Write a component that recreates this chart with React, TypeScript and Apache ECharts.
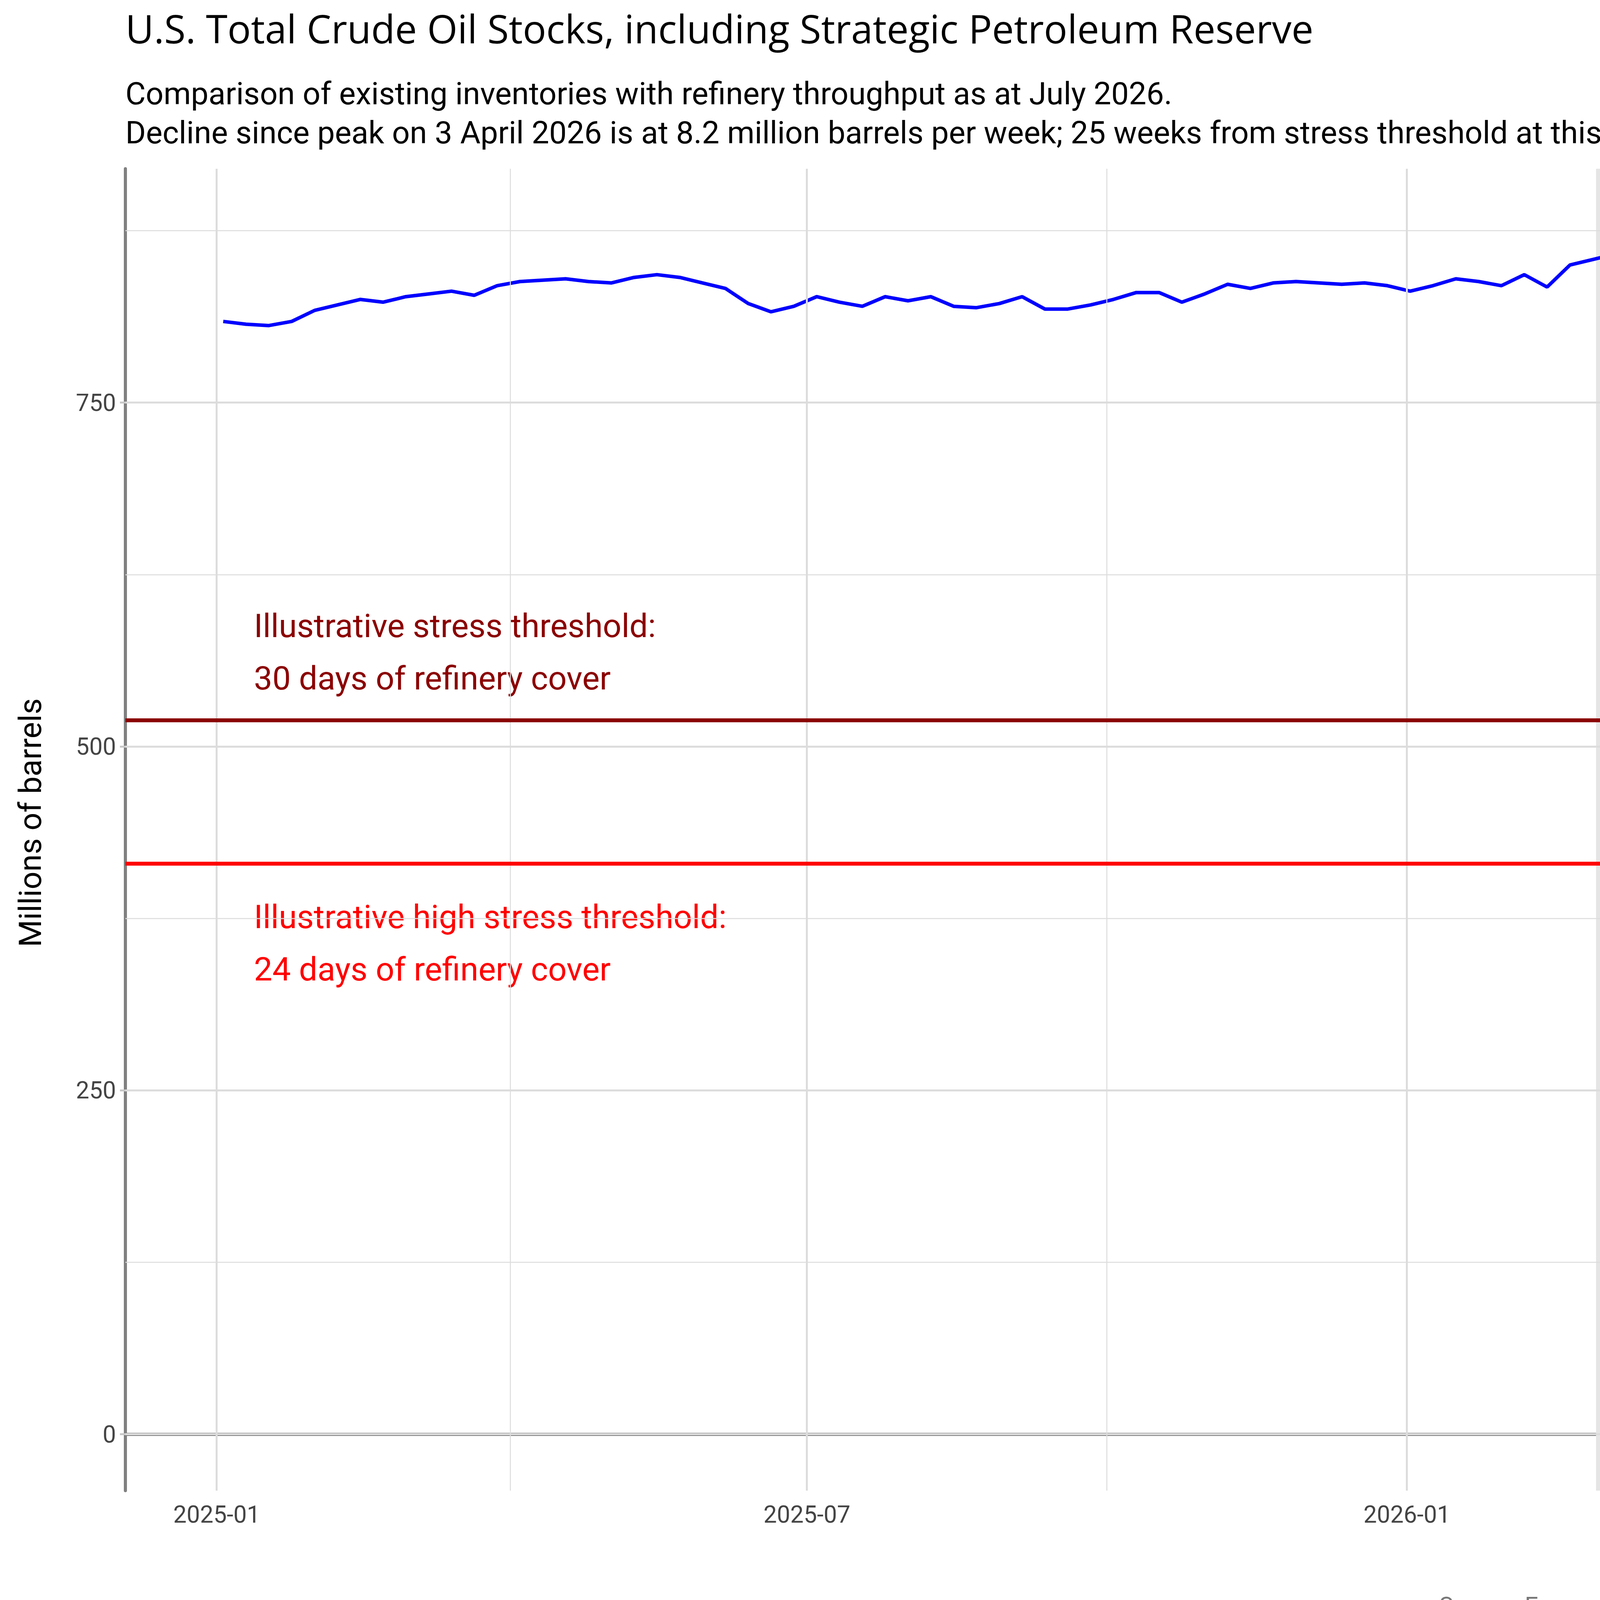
import React, { useEffect, useRef } from 'react'
import * as echarts from 'echarts'

// weekly stocks, million barrels, from 3 Jan 2025
const startWeek = Date.UTC(2025, 0, 3)
const stocks = [
  809, 807, 806, 809, 817, 821, 825, 823, 827, 829, 831, 828,
  835, 838, 839, 840, 838, 837, 841, 843, 841, 837, 833,
  822, 816, 820, 827, 823, 820, 827, 824, 827, 820, 819, 822, 827, 818, 818, 821, 825,
  830, 830, 823, 829, 836, 833, 837, 838, 837, 836, 837, 835, 831,
  835, 840, 838, 835, 843, 834, 850, 854, 858, 864, 871, 877, 879,
  873, 870, 858, 850, 838, 820, 806, 791, 776, 758, 742, 732, 729, 725, 722, 711, 711, 723, 722,
]
const barrelsPerDay = 17.3
const stressLevel = 519
const highStressLevel = 415
const leftTicks = [0, 250, 500, 750]
const leftMinor = [125, 375, 625, 875]
const rightTicks = [0, 10, 20, 30, 40, 50]
const xMajor = ['2025-01-01', '2025-07-01', '2026-01-01', '2026-07-01']
const xMinor = ['2025-04-01', '2025-10-01', '2026-04-01']
const shadeStart = '2026-02-28'
const xMin = '2024-12-04'
const xMax = '2026-09-12'
const yMin = -41
const yMax = 920

const ts = (s: string) => Date.parse(s + 'T00:00:00Z')
const fmt = (v: number) => {
  const d = new Date(v)
  return d.getUTCFullYear() + '-' + String(d.getUTCMonth() + 1).padStart(2, '0')
}

export default function App() {
  const ref = useRef<HTMLDivElement | null>(null)

  useEffect(() => {
    document.body.style.margin = '0'
    if (!ref.current) return
    const chart = echarts.init(ref.current, null, { renderer: 'svg' })
    const data = stocks.map((v, i) => [startWeek + i * 7 * 86400000, v])
    const grey = '#dcdcdc'
    const font = 'Roboto'

    chart.setOption({
      animation: false,
      backgroundColor: '#fff',
      textStyle: { fontFamily: font },
      grid: { left: 321, right: 278, top: 432, bottom: 384 },
      xAxis: {
        type: 'value', min: ts(xMin), max: ts(xMax), scale: true,
        axisLine: { lineStyle: { color: '#808080', width: 8 } },
        axisTick: { show: true, customValues: xMajor.map(ts), length: 14, lineStyle: { color: '#c8c8c8', width: 5 } },
        axisLabel: { customValues: xMajor.map(ts), formatter: (v: number) => fmt(v), fontSize: 61, color: '#444', margin: 30 },
        splitLine: { show: false },
      },
      yAxis: [
        {
          type: 'value', min: yMin, max: yMax,
          axisLine: { show: true, lineStyle: { color: '#808080', width: 8 } },
          axisTick: { show: true, customValues: leftTicks, length: 14, lineStyle: { color: '#c8c8c8', width: 5 } },
          axisLabel: { customValues: leftTicks, fontSize: 61, color: '#444', margin: 24 },
          splitLine: { show: false },
        },
        {
          type: 'value', min: yMin / barrelsPerDay, max: yMax / barrelsPerDay,
          axisLine: { show: true, lineStyle: { color: '#808080', width: 8 } },
          axisTick: { show: true, customValues: rightTicks, length: 14, lineStyle: { color: '#c8c8c8', width: 5 } },
          axisLabel: { customValues: rightTicks, fontSize: 61, color: '#444', margin: 24 },
          splitLine: { show: false },
        },
      ],
      series: [
        {
          type: 'line', data: [], z: 1,
          markArea: {
            silent: true,
            itemStyle: { color: '#e5e5e5' },
            data: [[{ xAxis: ts(shadeStart) }, { xAxis: ts(xMax) }]],
          },
          markLine: {
            silent: true, symbol: 'none', label: { show: false },
            data: [
              ...leftTicks.map(v => ({ yAxis: v, lineStyle: { color: grey, width: 5, type: 'solid' } })),
              ...leftMinor.map(v => ({ yAxis: v, lineStyle: { color: grey, width: 2.5, type: 'solid' } })),
              ...xMajor.map(d => ({ xAxis: ts(d), lineStyle: { color: grey, width: 5, type: 'solid' } })),
              ...xMinor.map(d => ({ xAxis: ts(d), lineStyle: { color: grey, width: 2.5, type: 'solid' } })),
            ],
          },
        },
        {
          type: 'line', data: [], z: 3,
          markLine: {
            silent: true, symbol: 'none', label: { show: false },
            data: [
              { yAxis: stressLevel, lineStyle: { color: '#8B0000', width: 10, type: 'solid' } },
              { yAxis: highStressLevel, lineStyle: { color: '#ff0000', width: 10, type: 'solid' } },
            ],
          },
        },
        {
          type: 'line', data, z: 4, showSymbol: false,
          lineStyle: { color: '#0000ff', width: 9 },
        },
      ],
      graphic: [
        { type: 'text', left: 321, top: 22, style: { text: 'U.S. Total Crude Oil Stocks, including Strategic Petroleum Reserve', fontSize: 100, fontFamily: 'Open Sans', fill: '#000' } },
        { type: 'text', left: 321, top: 190, style: { text: 'Comparison of existing inventories with refinery throughput as at July 2026.\nDecline since peak on 3 April 2026 is at 8.2 million barrels per week; 25 weeks from stress threshold at this (hypothetical and linear) rate.', fontSize: 80, lineHeight: 100, fontFamily: font, fill: '#000' } },
        { type: 'text', right: 278, top: 4080, style: { text: 'Source: Energy Information Administration (EIA). Accessed 20 August 2026', fontSize: 61, fontFamily: font, fill: '#777' } },
        { type: 'text', x: 78, y: 2106, rotation: Math.PI / 2, style: { text: 'Millions of barrels', fontSize: 80, fontFamily: font, fill: '#000', align: 'center', verticalAlign: 'middle' } },
        { type: 'text', x: 5915, y: 2106, rotation: -Math.PI / 2, style: { text: 'Days of refinery throughput', fontSize: 80, fontFamily: font, fill: '#000', align: 'center', verticalAlign: 'middle' } },
        { type: 'text', x: 650, y: 1535, style: { text: 'Illustrative stress threshold:\n30 days of refinery cover', fontSize: 84, lineHeight: 134, fontFamily: font, fill: '#8B0000' } },
        { type: 'text', x: 650, y: 2280, style: { text: 'Illustrative high stress threshold:\n24 days of refinery cover', fontSize: 84, lineHeight: 134, fontFamily: font, fill: '#ff0000' } },
        { type: 'text', x: 4995, y: 1110, style: { text: '722 million barrels;\n42 days of cover', fontSize: 61, lineHeight: 100, fontFamily: font, fill: '#0000ff', align: 'right' } },
      ],
    } as any)

    return () => chart.dispose()
  }, [])

  return <div ref={ref} style={{ width: 6000, height: 4200 }} />
}
